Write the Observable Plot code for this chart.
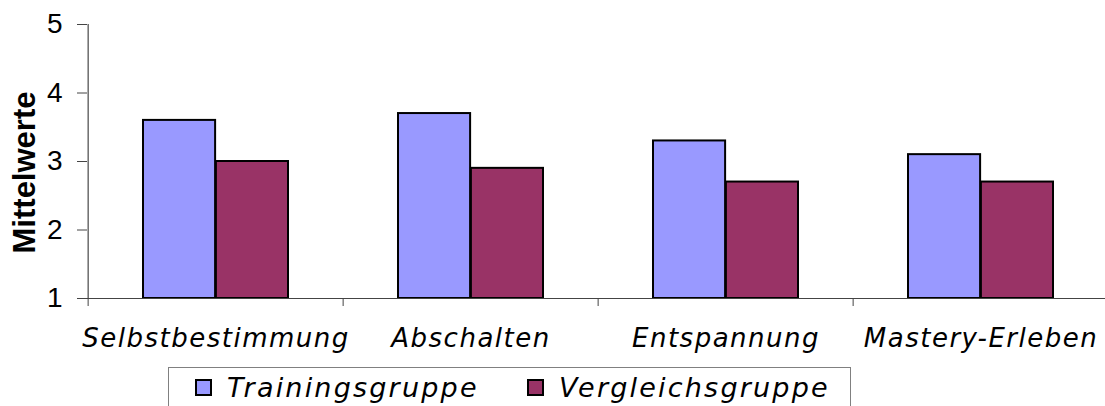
<!DOCTYPE html>
<html>
<head>
<meta charset="utf-8">
<script src="https://cdn.jsdelivr.net/npm/d3@7"></script>
<script src="https://cdn.jsdelivr.net/npm/@observablehq/plot@0.6"></script>
<style>
  html, body { margin: 0; padding: 0; background: #fff; overflow: hidden; }
  #wrap { position: relative; width: 1105px; height: 406px; overflow: hidden; }
  #chart svg { max-width: none !important; }
  #legend {
    position: absolute; left: 168px; top: 367px; width: 683px; height: 50px;
    border: 1px solid #808080; background: #fff; box-sizing: border-box;
    font-family: "DejaVu Sans", sans-serif; font-style: italic; font-size: 27px;
    letter-spacing: 2.2px; color: #000;
  }
  .item { position: absolute; top: 0px; display: flex; align-items: center; height: 38px; }
  .sw { width: 13px; height: 13px; border: 2px solid #000; margin-right: 15px; }
</style>
</head>
<body>
<div id="wrap">
  <div id="chart"></div>
  <div id="legend"></div>
</div>
<script>
const categories = ["Selbstbestimmung", "Abschalten", "Entspannung", "Mastery-Erleben"];
const groups = ["Trainingsgruppe", "Vergleichsgruppe"];
const training = [3.6, 3.7, 3.3, 3.1];
const vergleich = [3.0, 2.9, 2.7, 2.7];
const yTicks = [1, 2, 3, 4, 5];
const colors = ["#9999ff", "#993366"];
const yLabel = "Mittelwerte";

const rowsT = categories.map((c, i) => ({cat: c, group: groups[0], value: training[i]}));
const rowsV = categories.map((c, i) => ({cat: c, group: groups[1], value: vergleich[i]}));

const W = 1111, H = 362, ML = 87, MR = 1, MT = 24, MB = 64;
const padIn = 0.43, padOut = 0.215;
const step = (W - ML - MR) / (categories.length - padIn + 2 * padOut);
const half = step * (1 - padIn) / 2;

const chart = Plot.plot({
  width: W, height: H,
  marginLeft: ML, marginRight: MR, marginTop: MT, marginBottom: MB,
  style: {fontFamily: "'Liberation Sans', Arial, sans-serif", background: "#fff", overflow: "visible", maxWidth: "none"},
  x: {domain: categories, paddingInner: padIn, paddingOuter: padOut, axis: null},
  y: {domain: [1, 5], axis: null},
  color: {domain: groups, range: colors},
  marks: [
    Plot.barY(rowsT, {x: "cat", y1: 1, y2: "value", fill: "group", stroke: "#000", strokeWidth: 2, insetRight: half}),
    Plot.barY(rowsV, {x: "cat", y1: 1, y2: "value", fill: "group", stroke: "#000", strokeWidth: 2, insetLeft: half}),
    Plot.ruleY([1], {stroke: "#444", strokeWidth: 1}),
    Plot.ruleX([categories[0]], {x: d => d, y1: 1, y2: 5, dx: -(step * padOut + half), stroke: "#222"}),
    Plot.axisY({ticks: yTicks, tickFormat: "d", tickSize: 10, tickPadding: 15, fontSize: 28, label: null, stroke: "#444", fill: "#000"}),
    Plot.axisX({tickSize: 8, tickFormat: () => "", dx: -step / 2, label: null, stroke: "#444"}),
    Plot.axisX({tickSize: 0, tickPadding: 30, fontSize: 26, fontStyle: "italic", fontFamily: "'DejaVu Sans', sans-serif", label: null, fill: "#000"}),
    Plot.text([yLabel], {frameAnchor: "left", rotate: -90, textAnchor: "middle", dx: -62, dy: 11, fontSize: 31, fontWeight: "bold", fill: "#000"})
  ]
});
document.getElementById("chart").appendChild(chart);
d3.select(chart).selectAll("g[aria-label='x-axis tick label']").style("letter-spacing", "1.5px");

const legend = document.getElementById("legend");
const lefts = [26, 358];
groups.forEach((g, i) => {
  const it = document.createElement("div");
  it.className = "item";
  it.style.left = lefts[i] + "px";
  const sw = document.createElement("div");
  sw.className = "sw";
  sw.style.background = colors[i];
  const tx = document.createElement("span");
  tx.textContent = g;
  it.appendChild(sw); it.appendChild(tx);
  legend.appendChild(it);
});
</script>
</body>
</html>
